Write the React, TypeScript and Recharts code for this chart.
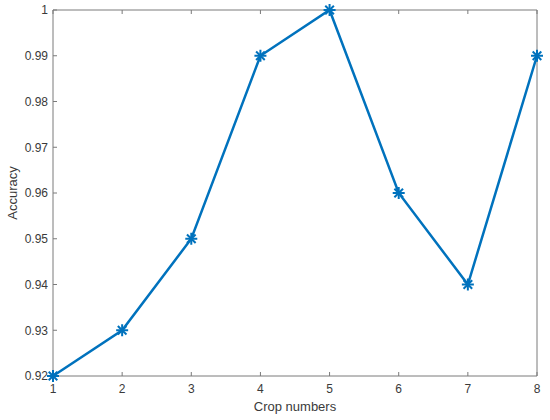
import { LineChart, Line, XAxis, YAxis } from 'recharts';

const cropNumbers = [1, 2, 3, 4, 5, 6, 7, 8];
const accuracy = [0.92, 0.93, 0.95, 0.99, 1, 0.96, 0.94, 0.99];
const yTicks = [0.92, 0.93, 0.94, 0.95, 0.96, 0.97, 0.98, 0.99, 1];

const data = cropNumbers.map((c, i) => ({ crop: c, acc: accuracy[i] }));

const LINE = '#0072BD';
const AXIS = '#7a7a7a';
const TEXT = '#3a3a3a';
const FONT = '"Liberation Sans", Arial, Helvetica, sans-serif';

const fmt = (v: number) => String(Number(v.toFixed(2)));

// MATLAB-style '*' marker
const Asterisk = (props: any) => {
  const { cx, cy, index } = props;
  const r = 6;
  const d = r * 0.72;
  return (
    <g key={`m-${index}`} stroke={LINE} strokeWidth={2}>
      <line x1={cx - r} y1={cy} x2={cx + r} y2={cy} />
      <line x1={cx} y1={cy - r} x2={cx} y2={cy + r} />
      <line x1={cx - d} y1={cy - d} x2={cx + d} y2={cy + d} />
      <line x1={cx - d} y1={cy + d} x2={cx + d} y2={cy - d} />
    </g>
  );
};

// box axes keep their tick marks but no labels
const NoLabel = () => <g />;

const tickStyle = { fontSize: 12, fill: TEXT, fontFamily: FONT };

export default function App() {
  return (
    <div style={{ position: 'absolute', left: 0, top: 0, width: 550, height: 420, background: '#fff' }}>
      <LineChart
        width={550}
        height={420}
        data={data}
        margin={{ top: 9, right: 12, bottom: 0, left: 0 }}
      >
        <XAxis
          xAxisId="bottom"
          dataKey="crop"
          type="number"
          domain={[1, 8]}
          ticks={cropNumbers}
          height={44}
          tickSize={-4}
          tickMargin={12}
          stroke={AXIS}
          tick={tickStyle}
          label={{ value: 'Crop numbers', position: 'insideBottom', offset: 9, fill: TEXT, fontSize: 13, fontFamily: FONT }}
        />
        <XAxis
          xAxisId="top"
          orientation="top"
          dataKey="crop"
          type="number"
          domain={[1, 8]}
          ticks={cropNumbers}
          height={1}
          tickSize={-4}
          stroke={AXIS}
          tick={<NoLabel />}
        />
        <YAxis
          yAxisId="left"
          type="number"
          domain={[0.92, 1]}
          ticks={yTicks}
          width={53}
          tickSize={-4}
          tickMargin={9}
          stroke={AXIS}
          tick={tickStyle}
          tickFormatter={fmt}
          label={{ value: 'Accuracy', angle: -90, position: 'insideLeft', offset: 12, fill: TEXT, fontSize: 13, fontFamily: FONT, style: { textAnchor: 'middle' } }}
        />
        <YAxis
          yAxisId="right"
          orientation="right"
          type="number"
          domain={[0.92, 1]}
          ticks={yTicks}
          width={1}
          tickSize={-4}
          stroke={AXIS}
          tick={<NoLabel />}
        />
        <Line
          xAxisId="bottom"
          yAxisId="left"
          dataKey="acc"
          stroke={LINE}
          strokeWidth={2.5}
          dot={Asterisk}
          activeDot={false}
          isAnimationActive={false}
        />
      </LineChart>
    </div>
  );
}
